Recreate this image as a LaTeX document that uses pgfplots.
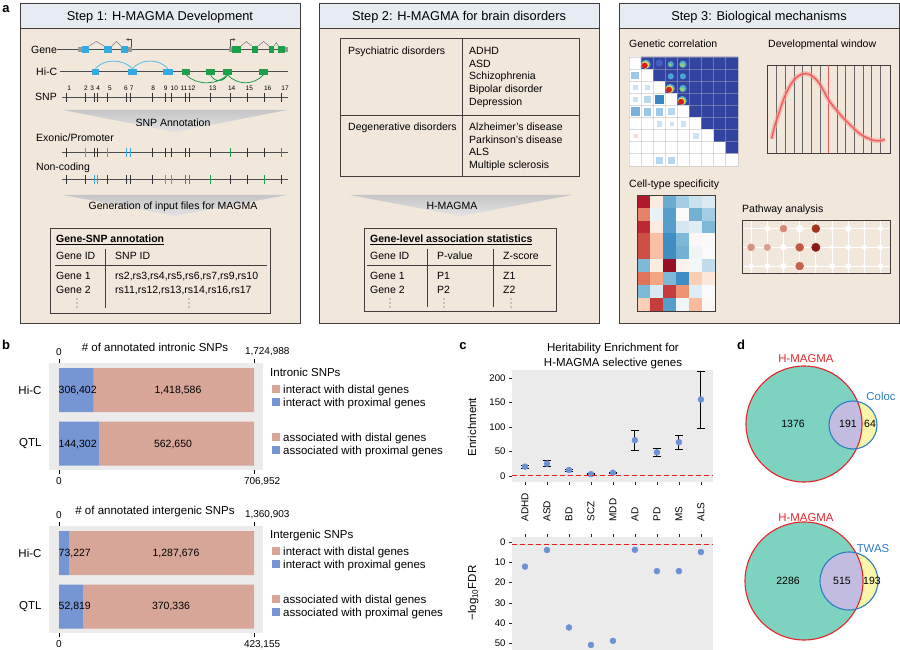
\documentclass[border=0pt]{standalone}
\usepackage{pgfplots}
\usepackage{pgfplotstable}
\pgfplotsset{compat=1.18}
\usepackage{fontspec}
\setmainfont{Liberation Sans}
\usetikzlibrary{arrows.meta}

\definecolor{hdr}{RGB}{231,235,242}
\definecolor{beige}{RGB}{242,231,219}
\definecolor{frame}{RGB}{64,60,58}
\definecolor{exblue}{RGB}{52,170,225}
\definecolor{exgreen}{RGB}{28,160,74}
\definecolor{barblue}{RGB}{117,150,210}
\definecolor{barsalmon}{RGB}{216,166,152}
\definecolor{panelgrey}{RGB}{235,235,235}
\definecolor{ptblue}{RGB}{110,145,214}
\definecolor{dashred}{RGB}{238,30,30}
\definecolor{hmred}{RGB}{228,36,42}
\definecolor{vblue}{RGB}{45,125,195}
\definecolor{vteal}{RGB}{126,211,192}
\definecolor{vlav}{RGB}{194,189,224}
\definecolor{vyel}{RGB}{249,245,170}
\definecolor{devred}{RGB}{240,88,88}
\definecolor{devband}{RGB}{244,160,150}
\definecolor{jcyan}{RGB}{80,180,220}
\definecolor{jyel}{RGB}{238,224,70}
\definecolor{jred}{RGB}{212,30,28}
\definecolor{jgreen}{RGB}{150,205,110}

\newcommand\fs[1]{\fontsize{#1}{#1}\selectfont}

% panel b counts
\pgfplotstableread{
cat prox dist total
0 306402 1418586 1724988
1 144302 562650 706952
}\intronic
\pgfplotstableread{
cat prox dist total
0 73227 1287676 1360903
1 52819 370336 423155
}\intergenic

% panel c values
\pgfplotstableread{
x enr err fdr
0 19.3 3.4 12.1
1 25.5 6.2 3.9
2 12.4 2.0 42.1
3 4.1 1.0 50.7
4 6.9 1.5 48.7
5 73.1 20.7 3.8
6 48.3 8.3 14.3
7 69.0 14.1 14.3
8 155.9 58.0 4.9
}\herit

\pgfplotsset{
  every axis/.append style={/pgf/number format/assume math mode=true},
  sketch/.style={scale only axis, hide axis, y dir=reverse, clip=false, anchor=north west},
  snp/.style={only marks, mark=|, mark size=4.5pt, mark options={line width=0.7pt}},
  barax/.style={scale only axis, anchor=north west, width=214pt, height=107pt,
    xmin=-0.0513, xmax=1.046, ymin=-0.505, ymax=1.495, y dir=reverse,
    axis line style={draw=none}, tick align=outside, major tick length=4pt,
    tick style={black, line width=0.6pt}, xtick={0,1},
    xticklabel style={font=\fs{10}}},
  cax/.style={scale only axis, anchor=north west, width=201pt,
    xmin=-0.59, xmax=8.55, xtick={0,...,8},
    axis background/.style={fill=panelgrey}, axis line style={draw=none},
    tick align=outside, major tick length=3pt, tick style={black!85, line width=0.6pt},
    ytick pos=left, yticklabel style={font=\fs{9.6}}},
  refline/.style={draw=dashred, line width=1.15pt, dash pattern=on 5pt off 3pt, mark=none},
}

\tikzset{T/.style={inner sep=0pt, text height=#1, text depth=0pt}, T/.default=7.6pt}

\newcommand\stepbox[3]{%
  \fill[beige] (#1,3) rectangle (#2,323);
  \fill[hdr] (#1,3) rectangle (#2,28);
  \draw[frame, line width=0.8pt] (#1,3) rectangle (#2,323);
  \draw[frame, line width=0.8pt] (#1,28) -- (#2,28);
  \node[T=9.2pt, font=\fs{12.8}] at ({(#1+#2)/2},15.5) {#3};
}
\newcommand\vdotsat[2]{\foreach \yy in {-4,0,4} \fill[black!75] (#1,#2+\yy) circle[radius=0.55];}

\begin{document}
\begin{tikzpicture}[x=1pt, y=-1pt, font=\fs{10.5}]
\path[use as bounding box] (0,0) rectangle (900,650);

% ---------------- panel a ----------------
\node[T=9pt, font=\fs{13}\bfseries] at (6,8) {a};
\stepbox{20}{300}{Step 1: H-MAGMA Development}
\stepbox{319}{599}{Step 2: H-MAGMA for brain disorders}
\stepbox{619}{899}{Step 3: Biological mechanisms}

\shade[top color=gray!45, bottom color=gray!22] (63,110) -- (287,110) -- (175,132) -- cycle;
\shade[top color=gray!45, bottom color=gray!22] (63,195) -- (287,195) -- (175,216) -- cycle;
\shade[top color=gray!45, bottom color=gray!22] (350,195) -- (572,195) -- (461,216) -- cycle;

% gene track
\draw[black!70, line width=0.6pt] (57,49.3) -- (288,49.3);
\draw[black!55, line width=0.5pt] (89,46) -- (96.5,41.5) -- (104,46) (111.7,46) -- (116.4,41.5) -- (121,46);
\draw[black!55, line width=0.5pt] (241,46) -- (246.3,41.5) -- (251.7,46) (258.3,46) -- (263.6,41.5) -- (269,46) (274.3,46) -- (276.3,42.5) -- (278.3,46);
\fill[gray!80] (78.3,46.8) rectangle (82.3,51.8);
\fill[gray!80] (127.7,46.8) rectangle (132.3,51.8);
\fill[gray!80] (229,46.8) rectangle (232.3,51.8);
\fill[gray!80] (285,46.8) rectangle (288.3,51.8);
\foreach \a/\b in {82.3/89,104/111.7,121/127.7} \fill[exblue] (\a,46) rectangle (\b,52.6);
\foreach \a/\b in {232.3/241,251.7/258.3,269/274.3,278.3/285} \fill[exgreen] (\a,46) rectangle (\b,52.6);
\draw[black!70, line width=0.5pt, -{Stealth[length=2.5pt,width=2.5pt]}] (131,46.8) -- (131,39.5) -- (126.2,39.5);
\draw[black!70, line width=0.5pt, -{Stealth[length=2.5pt,width=2.5pt]}] (230.5,46.8) -- (230.5,39.5) -- (235.5,39.5);

% Hi-C track
\draw[black!70, line width=0.6pt] (60,71.7) -- (288,71.7);
\draw[exblue!80, line width=0.8pt] (95.3,68.7) .. controls (104,58.5) and (123,58.5) .. (132.5,68.7)
  .. controls (141,58.5) and (159,58.5) .. (168,68.7);
\draw[exgreen, line width=0.8pt] (186,74.7) .. controls (196,85.5) and (217,85.5) .. (227.5,74.7)
  (210.5,74.7) .. controls (214,82.5) and (224,82.5) .. (227.5,74.7)
  (227.5,74.7) .. controls (237,85.5) and (254,85.5) .. (263.5,74.7);
\foreach \a/\b in {91.7/99,128.3/136.7,163.3/172.7} \fill[exblue] (\a,68.7) rectangle (\b,74.7);
\foreach \a/\b in {181.7/190,206/215,223.3/231.7,259.3/267.7} \fill[exgreen] (\a,68.7) rectangle (\b,74.7);

% SNP tracks
\draw[black!70, line width=0.6pt] (62,97) -- (288,97);
\draw[black!70, line width=0.6pt] (62,152) -- (288,152);
\draw[black!70, line width=0.6pt] (62,179) -- (288,179);
\begin{axis}[sketch, at={(30pt,-35pt)}, width=270pt, height=155pt, xmin=30, xmax=300, ymin=35, ymax=190]
\addplot[snp, black!80] coordinates {(66.7,97)(85,97)(94.3,97)(97.7,97)(107.7,97)(126.7,97)(130.7,97)(152.3,97)(165,97)(171.7,97)(185.7,97)(189,97)(210,97)(230,97)(247.3,97)(264,97)(281.7,97)};
\addplot[snp, black!80] coordinates {(66.7,152)(94.3,152)(97.7,152)(152.3,152)(165,152)(171.7,152)(185.7,152)(189,152)(210,152)(247.3,152)(264,152)};
\addplot[snp, exblue] coordinates {(85,152)(107.7,152)(126.7,152)(130.7,152)};
\addplot[snp, exgreen] coordinates {(230,152)(281.7,152)};
\addplot[snp, black!80] coordinates {(66.7,179)(85,179)(107.7,179)(126.7,179)(130.7,179)(152.3,179)(230,179)(247.3,179)(281.7,179)};
\addplot[snp, exblue] coordinates {(94.3,179)(97.7,179)(165,179)(171.7,179)};
\addplot[snp, exgreen] coordinates {(185.7,179)(189,179)(210,179)(264,179)};
\end{axis}
\foreach \x/\n in {69.3/1,86/2,92.3/3,98.3/4,110/5,126/6,131.7/7,153.3/8,165.7/9,174.3/10,184/11,191.7/12,212.7/13,231.7/14,249.3/15,267.7/16,285/17}
  \node[T=4.7pt, font=\fs{6.5}] at (\x,87.7) {\n};

\node[T, anchor=west] at (31,49.3) {Gene};
\node[T, anchor=west] at (36,71.7) {Hi-C};
\node[T, anchor=west] at (35,97) {SNP};
\node[T, anchor=west] at (36,138) {Exonic/Promoter};
\node[T, anchor=west] at (36,167) {Non-coding};
\node[T] at (173,122.5) {SNP Annotation};
\node[T] at (173,206) {Generation of input files for MAGMA};

% table step 1
\draw[frame, line width=0.8pt] (50,228) rectangle (270,313);
\node[T, anchor=west] at (56,239) {\underline{\textbf{Gene-SNP annotation}}};
\draw[frame, line width=0.7pt] (105,249) -- (105,308);
\draw[frame, line width=0.7pt] (55,265) -- (267,265);
\node[T, anchor=west] at (56,256) {Gene ID};
\node[T, anchor=west] at (115,256) {SNP ID};
\node[T, anchor=west] at (56,276) {Gene 1};
\node[T, anchor=west] at (115,276) {rs2,rs3,rs4,rs5,rs6,rs7,rs9,rs10};
\node[T, anchor=west] at (56,290) {Gene 2};
\node[T, anchor=west] at (115,290) {rs11,rs12,rs13,rs14,rs16,rs17};
\vdotsat{77}{303}
\vdotsat{189}{303}

% step 2
\draw[frame, line width=0.8pt] (340,38) rectangle (579,176);
\draw[frame, line width=0.8pt] (462,38) -- (462,176) (340,115) -- (579,115);
\node[T, anchor=west] at (348,51) {Psychiatric disorders};
\node[T, anchor=west] at (348,127) {Degenerative disorders};
\foreach \y/\t in {51/ADHD,63.5/ASD,76/Schizophrenia,89/Bipolar disorder,101.5/Depression,127/Alzheimer's disease,139.5/Parkinson's disease,152/ALS,164.5/Multiple sclerosis}
  \node[T, anchor=west] at (469,\y) {\t};
\node[T] at (452,206) {H-MAGMA};
\draw[frame, line width=0.8pt] (364,228) rectangle (556,311);
\node[T, anchor=west] at (370,238.5) {\underline{\textbf{Gene-level association statistics}}};
\draw[frame, line width=0.7pt] (427,249) -- (427,307) (493,249) -- (493,307) (367,265) -- (551,265);
\node[T, anchor=west] at (370,256) {Gene ID};
\node[T, anchor=west] at (437,256) {P-value};
\node[T, anchor=west] at (503,256) {Z-score};
\node[T, anchor=west] at (370,276) {Gene 1};
\node[T, anchor=west] at (437,276) {P1};
\node[T, anchor=west] at (503,276) {Z1};
\node[T, anchor=west] at (370,290) {Gene 2};
\node[T, anchor=west] at (437,290) {P2};
\node[T, anchor=west] at (503,290) {Z2};
\vdotsat{390}{303}
\vdotsat{444}{303}
\vdotsat{511}{303}

% step 3
\node[T, anchor=west] at (629,44) {Genetic correlation};
\node[T, anchor=west] at (768,44) {Developmental window};
\node[T, anchor=west] at (629,184) {Cell-type specificity};
\node[T, anchor=west] at (742,209) {Pathway analysis};

\begin{axis}[scale only axis, anchor=north west, at={(629pt,-57pt)}, width=109pt, height=109pt,
  xmin=-0.5, xmax=8.5, ymin=-0.5, ymax=8.5, y dir=reverse, clip=false,
  colormap={gc}{rgb255=(255,255,255) rgb255=(50,68,160)}, point meta min=0, point meta max=1,
  axis line style={draw=none}, xtick={-0.5,0.5,...,8.5}, ytick={-0.5,0.5,...,8.5},
  xticklabels={}, yticklabels={}, major tick length=0pt, grid=major,
  grid style={gray!60, opacity=0.45, line width=0.8pt}, axis on top]
\addplot[matrix plot*, point meta=explicit, mesh/cols=9] coordinates {
(0,0)[0](1,0)[1](2,0)[1](3,0)[1](4,0)[1](5,0)[1](6,0)[1](7,0)[1](8,0)[1]
(0,1)[0](1,1)[0](2,1)[1](3,1)[1](4,1)[1](5,1)[1](6,1)[1](7,1)[1](8,1)[1]
(0,2)[0](1,2)[0](2,2)[0](3,2)[1](4,2)[1](5,2)[1](6,2)[1](7,2)[1](8,2)[1]
(0,3)[0](1,3)[0](2,3)[0](3,3)[0](4,3)[1](5,3)[1](6,3)[1](7,3)[1](8,3)[1]
(0,4)[0](1,4)[0](2,4)[0](3,4)[0](4,4)[0](5,4)[1](6,4)[1](7,4)[1](8,4)[1]
(0,5)[0](1,5)[0](2,5)[0](3,5)[0](4,5)[0](5,5)[0](6,5)[1](7,5)[1](8,5)[1]
(0,6)[0](1,6)[0](2,6)[0](3,6)[0](4,6)[0](5,6)[0](6,6)[0](7,6)[1](8,6)[1]
(0,7)[0](1,7)[0](2,7)[0](3,7)[0](4,7)[0](5,7)[0](6,7)[0](7,7)[0](8,7)[1]
(0,8)[0](1,8)[0](2,8)[0](3,8)[0](4,8)[0](5,8)[0](6,8)[0](7,8)[0](8,8)[0]
};
% lower triangle squares
\addplot[only marks, mark=square*, mark size=4.3pt, color={rgb,255:red,58;green,135;blue,195}] coordinates {(2,3)};
\addplot[only marks, mark=square*, mark size=3.8pt, color={rgb,255:red,120;green,178;blue,220}] coordinates {(0,4)};
\addplot[only marks, mark=square*, mark size=3.4pt, color={rgb,255:red,158;green,200;blue,231}] coordinates {(0,1)(1,4)(2,4)};
\addplot[only marks, mark=square*, mark size=2.8pt, color={rgb,255:red,182;green,215;blue,237}] coordinates {(3,4)(1,3)(2,8)(3,8)};
\addplot[only marks, mark=square*, mark size=2.1pt, color={rgb,255:red,205;green,226;blue,242}] coordinates {(0,2)(1,2)(0,3)(2,5)(4,5)(5,6)};
\addplot[only marks, mark=square*, mark size=1.6pt, color={rgb,255:red,205;green,226;blue,242}] coordinates {(3,5)};
\addplot[only marks, mark=square*, mark size=1.8pt, color={rgb,255:red,250;green,222;blue,210}] coordinates {(0,6)};
% upper triangle hot spots
\addplot[only marks, mark=*, mark size=3.5pt, color={rgb,255:red,70;green,95;blue,190}] coordinates {(2,0)};
\addplot[only marks, mark=*, mark size=4.4pt, jcyan, opacity=0.9] coordinates {(0.9,0.1)(2.9,2.1)(3.9,3.1)};
\addplot[only marks, mark=*, mark size=3.5pt, jyel] coordinates {(0.85,0.15)(2.85,2.15)(3.85,3.15)};
\addplot[only marks, mark=*, mark size=2.7pt, jred] coordinates {(0.8,0.2)(2.8,2.2)(3.8,3.2)};
\addplot[only marks, mark=*, mark size=3.4pt, jcyan, opacity=0.85] coordinates {(3.95,0.1)(3.95,2.1)};
\addplot[only marks, mark=*, mark size=2pt, jgreen] coordinates {(3.9,0.15)(3.9,2.15)};
\addplot[only marks, mark=*, mark size=2.8pt, jcyan, opacity=0.85] coordinates {(2.95,0.1)(2.95,1.1)(3.95,1.1)};
\addplot[only marks, mark=*, mark size=1.4pt, jgreen] coordinates {(2.9,0.15)};
\end{axis}

\begin{axis}[scale only axis, anchor=north west, at={(637pt,-195pt)}, width=78pt, height=116pt,
  xmin=-0.5, xmax=5.5, ymin=-0.5, ymax=8.5, y dir=reverse,
  colormap={rdbu}{rgb255=(5,48,97) rgb255=(33,102,172) rgb255=(67,147,195) rgb255=(146,197,222) rgb255=(209,229,240) rgb255=(250,250,250) rgb255=(253,219,199) rgb255=(244,165,130) rgb255=(214,96,77) rgb255=(178,24,43) rgb255=(120,10,30)},
  point meta min=-1, point meta max=1,
  axis line style={frame, line width=0.9pt}, ticks=none, axis on top]
\addplot[matrix plot*, point meta=explicit, mesh/cols=6] coordinates {
(0,0)[0.8](1,0)[0.1](2,0)[-0.5](3,0)[-0.35](4,0)[-0.22](5,0)[-0.15]
(0,1)[0.5](1,1)[-0.08](2,1)[-0.55](3,1)[0](4,1)[-0.48](5,1)[-0.35]
(0,2)[0.75](1,2)[0.1](2,2)[-0.55](3,2)[-0.18](4,2)[-0.12](5,2)[-0.45]
(0,3)[0.65](1,3)[0.3](2,3)[-0.62](3,3)[-0.45](4,3)[0.02](5,3)[0.01]
(0,4)[0.65](1,4)[0.3](2,4)[-0.62](3,4)[-0.48](4,4)[-0.05](5,4)[0]
(0,5)[-0.45](1,5)[0.1](2,5)[0.9](3,5)[0.05](4,5)[-0.03](5,5)[-0.25]
(0,6)[0.55](1,6)[0.4](2,6)[-0.45](3,6)[-0.62](4,6)[0.25](5,6)[0.12]
(0,7)[-0.45](1,7)[-0.15](2,7)[0.7](3,7)[0.45](4,7)[-0.12](5,7)[0]
(0,8)[0.25](1,8)[0.7](2,8)[-0.55](3,8)[-0.05](4,8)[0.32](5,8)[0.02]
};
\end{axis}

\begin{axis}[scale only axis, anchor=north west, at={(767pt,-65pt)}, width=123pt, height=88pt,
  xmin=8, xmax=378, ymin=12, ymax=278, y dir=reverse,
  axis line style={frame, line width=0.9pt}, xtick={37,63,...,349}, ytick=\empty,
  xticklabels={}, major tick length=0pt, xmajorgrids, grid style={black!60, line width=0.7pt}]
\addplot[devred, line width=1.3pt] coordinates {(193,12)(193,278)};
\addplot[smooth, devband, line width=4.5pt, opacity=0.65] coordinates {(22,235)(30,200)(40,170)(50,138)(60,110)(70,88)(80,70)(90,56)(100,47)(112,40)(125,38)(137,41)(150,50)(160,60)(170,75)(180,93)(190,112)(200,127)(210,140)(225,158)(240,175)(255,190)(270,205)(285,218)(300,228)(315,235)(330,240)(345,241)(355,240)(362,236)};
\addplot[smooth, devred, line width=1.3pt] coordinates {(22,235)(30,200)(40,170)(50,138)(60,110)(70,88)(80,70)(90,56)(100,47)(112,40)(125,38)(137,41)(150,50)(160,60)(170,75)(180,93)(190,112)(200,127)(210,140)(225,158)(240,175)(255,190)(270,205)(285,218)(300,228)(315,235)(330,240)(345,241)(355,240)(362,236)};
\end{axis}

\begin{axis}[scale only axis, anchor=north west, at={(742pt,-220pt)}, width=148pt, height=53pt,
  xmin=0.44, xmax=9.58, ymin=0.54, ymax=3.37, y dir=reverse, clip=false,
  axis line style={frame, line width=0.9pt}, xtick={1,...,9}, ytick={1,2,3},
  xticklabels={}, yticklabels={}, major tick length=0pt, grid=major,
  grid style={white, line width=0.9pt}]
\addplot[only marks, mark=*, mark size=1.6pt, white] coordinates {(1,1)(5,3)};
\addplot[only marks, mark=*, mark size=1.9pt, white] coordinates {(6,1)(6,2)(8,1)(8,3)};
\addplot[only marks, mark=*, mark size=2.3pt, white] coordinates {(9,1)(7,2)(8,2)(9,2)(1,3)(9,3)};
\addplot[only marks, mark=*, mark size=2.6pt, white] coordinates {(2,1)(2,3)(6,3)(7,3)};
\addplot[only marks, mark=*, mark size=2.9pt, white] coordinates {(7,1)(3,3)(3,2)};
\addplot[only marks, mark=*, mark size=3.5pt, white] coordinates {(4,1)};
\addplot[only marks, mark=*, mark size=3.5pt, color={rgb,255:red,212;green,137;blue,122}] coordinates {(3,1)};
\addplot[only marks, mark=*, mark size=4pt, color={rgb,255:red,165;green,50;blue,31}] coordinates {(5,1)};
\addplot[only marks, mark=*, mark size=3.5pt, color={rgb,255:red,211;green,146;blue,130}] coordinates {(1,2)};
\addplot[only marks, mark=*, mark size=3.2pt, color={rgb,255:red,217;green,156;blue,142}] coordinates {(2,2)};
\addplot[only marks, mark=*, mark size=4pt, color={rgb,255:red,192;green,90;blue,71}] coordinates {(4,2)};
\addplot[only marks, mark=*, mark size=4.2pt, color={rgb,255:red,141;green,24;blue,24}] coordinates {(5,2)};
\addplot[only marks, mark=*, mark size=4pt, color={rgb,255:red,197;green,99;blue,79}] coordinates {(4,3)};
\end{axis}

% ---------------- panel b ----------------
\node[T=9pt, font=\fs{13}\bfseries] at (6,345) {b};
\begin{axis}[barax, at={(49pt,-363pt)}, xbar stacked, bar width=44pt,
  axis background/.style={fill=panelgrey},
  xtick pos=left, xticklabels={0,{\makebox[0pt][l]{\hspace{-10pt}706,952}}},
  ytick={0,1}, yticklabels={Hi-C,QTL}, ytick style={draw=none},
  yticklabel style={font=\fs{11.5}}]
\addplot[fill=barblue, draw=none] table[y=cat, x expr=\thisrow{prox}/\thisrow{total}] {\intronic};
\addplot[fill=barsalmon, draw=none] table[y=cat, x expr=\thisrow{dist}/\thisrow{total}] {\intronic};
\end{axis}
\begin{axis}[barax, at={(49pt,-363pt)}, xtick pos=right, xticklabel pos=right,
  xticklabels={0,{\makebox[0pt][l]{\hspace{-9pt}1,724,988}}}, ytick=\empty]
\end{axis}
\begin{axis}[barax, at={(49pt,-526pt)}, xbar stacked, bar width=44pt,
  axis background/.style={fill=panelgrey},
  xtick pos=left, xticklabels={0,{\makebox[0pt][l]{\hspace{-10pt}423,155}}},
  ytick={0,1}, yticklabels={Hi-C,QTL}, ytick style={draw=none},
  yticklabel style={font=\fs{11.5}}]
\addplot[fill=barblue, draw=none] table[y=cat, x expr=\thisrow{prox}/\thisrow{total}] {\intergenic};
\addplot[fill=barsalmon, draw=none] table[y=cat, x expr=\thisrow{dist}/\thisrow{total}] {\intergenic};
\end{axis}
\begin{axis}[barax, at={(49pt,-526pt)}, xtick pos=right, xticklabel pos=right,
  xticklabels={0,{\makebox[0pt][l]{\hspace{-9pt}1,360,903}}}, ytick=\empty]
\end{axis}

\node[T=8.3pt, font=\fs{11.5}] at (155,347) {\# of annotated intronic SNPs};
\node[T=8.3pt, font=\fs{11.5}] at (155,510) {\# of annotated intergenic SNPs};
\node[T, anchor=west] at (58.5,390) {306,402};
\node[T] at (178,390) {1,418,586};
\node[T, anchor=west] at (58.5,443.5) {144,302};
\node[T] at (173,443.5) {562,650};
\node[T, anchor=west] at (58.5,552.5) {73,227};
\node[T] at (176,552.5) {1,287,676};
\node[T, anchor=west] at (58.5,605.5) {52,819};
\node[T] at (171,605.5) {370,336};

\node[T=8.3pt, font=\fs{11.5}, anchor=west] at (270,372) {Intronic SNPs};
\node[T=8.3pt, font=\fs{11.5}, anchor=west] at (270,534) {Intergenic SNPs};
\foreach \y/\c/\t in {389/barsalmon/interact with distal genes, 402/barblue/interact with proximal genes,
  437/barsalmon/associated with distal genes, 450/barblue/associated with proximal genes,
  551/barsalmon/interact with distal genes, 564/barblue/interact with proximal genes,
  599/barsalmon/associated with distal genes, 612/barblue/associated with proximal genes} {
  \fill[\c] (272,\y-4) rectangle (280,\y+4);
  \node[T=8.3pt, font=\fs{11.5}, anchor=west] at (283,\y) {\t};
}

% ---------------- panel c ----------------
\node[T=9pt, font=\fs{13}\bfseries] at (463,345) {c};
\node[T=8.3pt, font=\fs{11.5}] at (613,347) {Heritability Enrichment for};
\node[T=8.3pt, font=\fs{11.5}] at (613,362) {H-MAGMA selective genes};
\node[T=8.3pt, font=\fs{11.5}, rotate=90] at (472,427) {Enrichment};
\node[T=8.3pt, font=\fs{11.5}, rotate=90] at (472,593) {−log\textsubscript{10}FDR};

\begin{axis}[cax, at={(512pt,-370pt)}, height=112pt, ymin=-12, ymax=216,
  ytick={0,50,100,150,200}, xticklabels={}, xtick pos=left]
\addplot[only marks, mark=*, mark size=3pt, ptblue,
  error bars/.cd, y dir=both, y explicit,
  error bar style={black, line width=0.9pt},
  error mark options={black, rotate=90, mark size=4pt, line width=0.9pt}]
  table[x=x, y=enr, y error=err] {\herit};
\end{axis}
% reference line of the upper panel, in an overlay axis of the same frame
\begin{axis}[scale only axis, anchor=north west, at={(512pt,-370pt)}, width=201pt, height=112pt,
  xmin=-0.59, xmax=8.55, ymin=-12, ymax=216, hide axis]
\addplot[refline] coordinates {(-0.59,1) (8.55,1)};
\end{axis}

\begin{axis}[cax, at={(512pt,-537pt)}, height=113pt, ymin=-2.5, ymax=53.2, y dir=reverse,
  ytick={0,10,...,50}, xtick pos=right, xticklabel pos=right,
  xticklabels={ADHD,ASD,BD,SCZ,MDD,AD,PD,MS,ALS},
  xticklabel style={rotate=90, anchor=west, xshift=9pt, font=\fs{10}}]
\addplot[refline] coordinates {(-0.59,1.3) (8.55,1.3)};
\addplot[only marks, mark=*, mark size=3pt, ptblue] table[x=x, y=fdr] {\herit};
\end{axis}

% ---------------- panel d ----------------
\node[T=9pt, font=\fs{13}\bfseries] at (741,345) {d};
\fill[vteal] (804,424) circle[radius=58];
\fill[vyel] (853,425) circle[radius=24];
\begin{scope}
  \clip (804,424) circle[radius=58];
  \fill[vlav] (853,425) circle[radius=24];
\end{scope}
\draw[hmred, line width=1.1pt] (804,424) circle[radius=58];
\draw[vblue, line width=1.1pt] (853,425) circle[radius=24];

\fill[vteal] (804,581) circle[radius=59];
\fill[vyel] (849,581) circle[radius=29];
\begin{scope}
  \clip (804,581) circle[radius=59];
  \fill[vlav] (849,581) circle[radius=29];
\end{scope}
\draw[hmred, line width=1.1pt] (804,581) circle[radius=59];
\draw[vblue, line width=1.1pt] (849,581) circle[radius=29];

\node[T=8.2pt, font=\fs{11.4}, hmred] at (806,358) {H-MAGMA};
\node[T=8.2pt, font=\fs{11.4}, vblue] at (881,396) {Coloc};
\node[T=8.2pt, font=\fs{11.4}, hmred] at (806,517) {H-MAGMA};
\node[T=8.2pt, font=\fs{11.4}, vblue] at (873,548) {TWAS};
\node[T] at (793,424) {1376};
\node[T] at (848,424) {191};
\node[T] at (870,424) {64};
\node[T] at (788,581) {2286};
\node[T] at (842,581) {515};
\node[T] at (872,581) {193};
\end{tikzpicture}
\end{document}
